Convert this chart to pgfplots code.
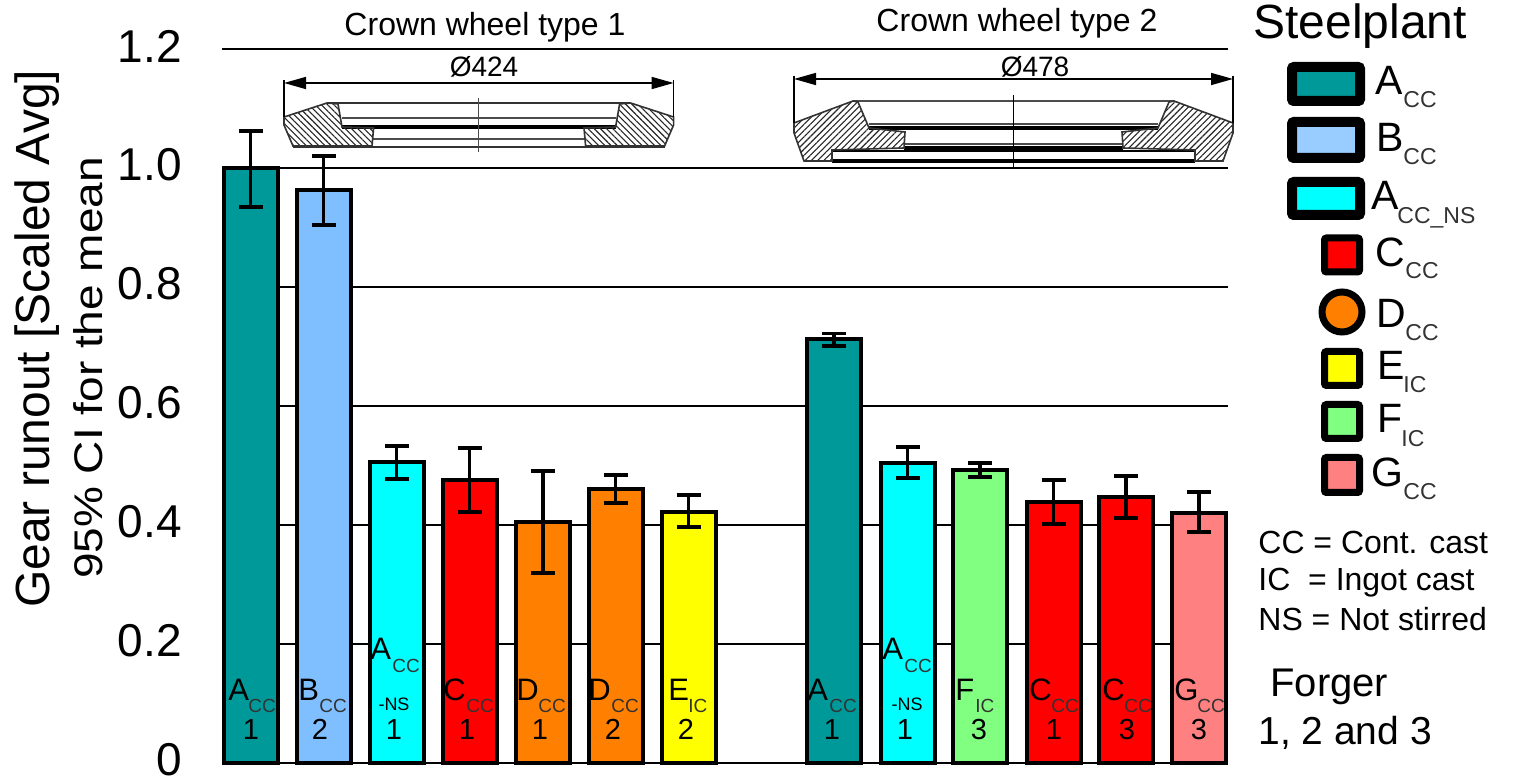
\documentclass[border=0pt]{standalone}
\usepackage{fontspec}
\setmainfont{Liberation Sans}
\usepackage{graphicx}
\usepackage{pgfplots}
\pgfplotsset{compat=1.18}
\usetikzlibrary{patterns.meta,arrows.meta}
\definecolor{cA}{HTML}{009999}
\definecolor{cB}{HTML}{80BFFF}
\definecolor{cBl}{HTML}{99CCFF}
\definecolor{cN}{HTML}{00FFFF}
\definecolor{cC}{HTML}{FF0000}
\definecolor{cD}{HTML}{FF8000}
\definecolor{cE}{HTML}{FFFF00}
\definecolor{cF}{HTML}{80FF80}
\definecolor{cG}{HTML}{FF8080}
\newcommand{\fs}[1]{\fontsize{#1}{#1}\selectfont}
% bar label: main x, main base y, main, sub x, sub, number x, number
\newcommand{\bl}[7]{%
  \node[anchor=base west,inner sep=0pt] at (#1,#2) {\fs{15.5}#3};
  \node[anchor=base west,inner sep=0pt,text=black!80] at (#4,#2+12) {\fs{9.5}#5};
  \node[anchor=base,inner sep=0pt] at (#6,739) {\fs{14.5}#7};
}
% legend label
\newcommand{\lgd}[6]{%
  \node[anchor=base west,inner sep=0pt] at (#1,#2) {\fs{20.5}#3};
  \node[anchor=base west,inner sep=0pt,text=black!80] at (#4,#5) {\fs{11.5}#6};
}
\pgfplotsset{
  mybar/.style={ybar,bar shift=0pt,bar width=27pt,draw=black,line width=2pt,fill=#1,mark=none,forget plot,
    error bars/y dir=both,error bars/y explicit,
    error bars/error bar style={black,line width=1.8pt},
    error bars/error mark options={rotate=90,black,mark size=6pt,line width=1.8pt}},
}
\tikzset{
  hw/.style={pattern={Lines[angle=-45,distance=2.2pt,line width=0.55pt]},pattern color=black!85,draw=black!80},
  he/.style={pattern={Lines[angle=45,distance=2.2pt,line width=0.55pt]},pattern color=black!85,draw=black!80},
  dim/.style={{Stealth[length=11pt,width=6pt,inset=0pt]}-{Stealth[length=11pt,width=6pt,inset=0pt]},line width=0.8pt},
}
\begin{document}
\begin{tikzpicture}
\begin{axis}[
  at={(111pt,-381.5pt)},anchor=south west,
  scale only axis,width=503pt,height=357pt,
  xmin=222,xmax=1228,ymin=0,ymax=1.2,
  clip=false,
  axis line style={draw=none},
  xtick=\empty,
  ytick={0,0.2,0.4,0.6,0.8,1.0,1.2},
  yticklabels={0,0.2,0.4,0.6,0.8,1.0,1.2},
  ymajorgrids,
  major grid style={black,line width=0.9pt},
  ytick style={draw=none},
  yticklabel style={font=\fs{23},inner sep=0pt,xshift=-20pt,yshift=1.5pt},
  ylabel={Gear runout [Scaled Avg]},
  ylabel style={font=\fs{24},at={(axis description cs:-0.184,0.594)},anchor=center},
]
\addplot[mybar=cA] table[x=x,y=y,y error plus=ep,y error minus=em] {
x y ep em
250.5 1.000 0.062 0.066
834 0.712 0.010 0.011
};
\addplot[mybar=cB] table[x=x,y=y,y error plus=ep,y error minus=em] {
x y ep em
323.5 0.963 0.057 0.059
};
\addplot[mybar=cN] table[x=x,y=y,y error plus=ep,y error minus=em] {
x y ep em
396.5 0.506 0.027 0.029
907.5 0.504 0.027 0.025
};
\addplot[mybar=cC] table[x=x,y=y,y error plus=ep,y error minus=em] {
x y ep em
469.5 0.476 0.053 0.054
1053.5 0.439 0.037 0.037
1126 0.447 0.035 0.035
};
\addplot[mybar=cD] table[x=x,y=y,y error plus=ep,y error minus=em] {
x y ep em
543 0.405 0.086 0.086
615.5 0.460 0.024 0.023
};
\addplot[mybar=cE] table[x=x,y=y,y error plus=ep,y error minus=em] {
x y ep em
688.5 0.422 0.028 0.025
};
\addplot[mybar=cF] table[x=x,y=y,y error plus=ep,y error minus=em] {
x y ep em
980 0.492 0.012 0.011
};
\addplot[mybar=cG] table[x=x,y=y,y error plus=ep,y error minus=em] {
x y ep em
1199 0.420 0.035 0.032
};
\end{axis}
\begin{scope}[x=0.5pt,y=-0.5pt]
\path[use as bounding box] (0,0) rectangle (1519,779);
\node[rotate=90,anchor=center,inner sep=0pt] at (88,368) {\scalebox{1.15}[1]{\fs{20}95\% CI for the mean}};
% headings
\node[anchor=base,inner sep=0pt] at (485,36) {\fs{16}Crown wheel type 1};
\node[anchor=base,inner sep=0pt] at (1017,32) {\fs{16}Crown wheel type 2};
% type 1 drawing
\begin{scope}[line width=0.8pt]
\fill[white] (284,117)--(327,103)--(631,103)--(673.6,117)--(673.6,125)--(665,147)--(293,147)--(284,125)--cycle;
\draw[black!70] (342,118)--(615.6,118) (373,139)--(584.6,139);
\draw[black,line width=2pt] (342,127)--(615.6,127);
\draw[black!80] (327,103)--(631,103) (293,147)--(665,147);
\path[hw] (284,117)--(327,103)--(338,104)--(342,127)--(373.6,128)--(372,146)--(293,146)--(284,125)--cycle;
\path[hw] (673.6,117)--(630.6,103)--(619.6,104)--(615.6,127)--(584,128)--(585.6,146)--(664.6,146)--(673.6,125)--cycle;
\draw[black!70,line width=0.8pt] (478.5,98)--(478.5,152);
\draw (284,80)--(284,117) (673.6,80)--(673.6,117);
\draw[dim] (284,83)--(673.6,83);
\end{scope}
\node[anchor=base,inner sep=0pt] at (484,77) {\fs{14}Ø424};
% type 2 drawing
\begin{scope}[line width=0.8pt]
\fill[white] (794,123)--(853,101)--(1174,101)--(1233,123)--(1233,133)--(1223,162)--(804,162)--(794,133)--cycle;
\draw[black!70] (869,124)--(1158,124) (905,144)--(1122,144) (853,101)--(1174,101);
\draw[black,line width=2pt] (869,128)--(1158,128) (904,148)--(1123,148) (832,161)--(1195,161);
\draw[black,line width=1pt] (832,151)--(1195,151);
\path[he] (794,123)--(853,101)--(858,102)--(869,128)--(905,132)--(904,148)--(832,150)--(832,161)--(804,161)--(794,133)--cycle;
\path[he] (1233,123)--(1174,101)--(1169,102)--(1158,128)--(1122,132)--(1123,148)--(1195,150)--(1195,161)--(1223,161)--(1233,133)--cycle;
\draw[black] (1013.5,95)--(1013.5,168);
\draw (794,76)--(794,123) (1233,76)--(1233,123);
\draw[dim] (794,79)--(1233,79);
\end{scope}
\node[anchor=base,inner sep=0pt] at (1035,77) {\fs{14}Ø478};
% bar labels
\bl{228}{700}{A}{248}{CC}{251}{1}
\bl{298}{700}{B}{319}{CC}{320}{2}
\node[anchor=base west,inner sep=0pt] at (370,660) {\fs{15.5}A};
\node[anchor=base west,inner sep=0pt,text=black!80] at (392,672) {\fs{9.5}CC};
\node[anchor=base,inner sep=0pt] at (394,710) {\fs{9}-NS};
\node[anchor=base,inner sep=0pt] at (394,739) {\fs{14.5}1};
\bl{443}{700}{C}{466}{CC}{467}{1}
\bl{516}{700}{D}{538}{CC}{540}{1}
\bl{588}{700}{D}{611}{CC}{613}{2}
\bl{668}{700}{E}{688}{IC}{686}{2}
\bl{807}{700}{A}{829}{CC}{832}{1}
\node[anchor=base west,inner sep=0pt] at (882,660) {\fs{15.5}A};
\node[anchor=base west,inner sep=0pt,text=black!80] at (904,672) {\fs{9.5}CC};
\node[anchor=base,inner sep=0pt] at (907,710) {\fs{9}-NS};
\node[anchor=base,inner sep=0pt] at (905,739) {\fs{14.5}1};
\bl{955}{700}{F}{975}{IC}{979}{3}
\bl{1029}{700}{C}{1051}{CC}{1054}{1}
\bl{1102}{700}{C}{1124}{CC}{1127}{3}
\bl{1174}{700}{G}{1197}{CC}{1199}{3}
% legend
\node[anchor=base west,inner sep=0pt] at (1253,39) {\fs{24}Steelplant};
\begin{scope}[draw=black,rounded corners=1pt]
\draw[line width=5pt,fill=cA] (1292,67)rectangle(1360,101);
\draw[line width=5pt,fill=cBl] (1292,122)rectangle(1360,158);
\draw[line width=5pt,fill=cN] (1292,182)rectangle(1360,215);
\draw[line width=3.5pt,fill=cC] (1324.5,238)rectangle(1359.5,272);
\draw[line width=3.5pt,fill=cD] (1342,312) circle[radius=20];
\draw[line width=3.5pt,fill=cE] (1324.5,351.5)rectangle(1359.5,385.5);
\draw[line width=3.5pt,fill=cF] (1324.5,404.5)rectangle(1359.5,438.5);
\draw[line width=3.5pt,fill=cG] (1324.5,457.5)rectangle(1359.5,492.5);
\end{scope}
\lgd{1375}{95}{A}{1403}{108}{CC}
\lgd{1376}{152}{B}{1403}{165}{CC}
\lgd{1371}{210}{A}{1397}{224}{CC\_NS}
\lgd{1375}{267}{C}{1405}{279}{CC}
\lgd{1376}{328}{D}{1405}{341}{CC}
\lgd{1377}{380}{E}{1403}{393}{IC}
\lgd{1377}{433}{F}{1401}{447}{IC}
\lgd{1371}{487}{G}{1403}{500}{CC}
% notes
\node[anchor=base west,inner sep=0pt] at (1258,554) {\fs{16}CC = Cont. cast};
\node[anchor=base west,inner sep=0pt] at (1258,590) {\fs{16}IC\ \ = Ingot cast};
\node[anchor=base west,inner sep=0pt] at (1258,631) {\fs{16}NS = Not stirred};
\node[anchor=base west,inner sep=0pt] at (1270,696) {\fs{20}Forger};
\node[anchor=base west,inner sep=0pt] at (1258,744) {\fs{19.5}1, 2 and 3};
\end{scope}
\end{tikzpicture}
\end{document}
